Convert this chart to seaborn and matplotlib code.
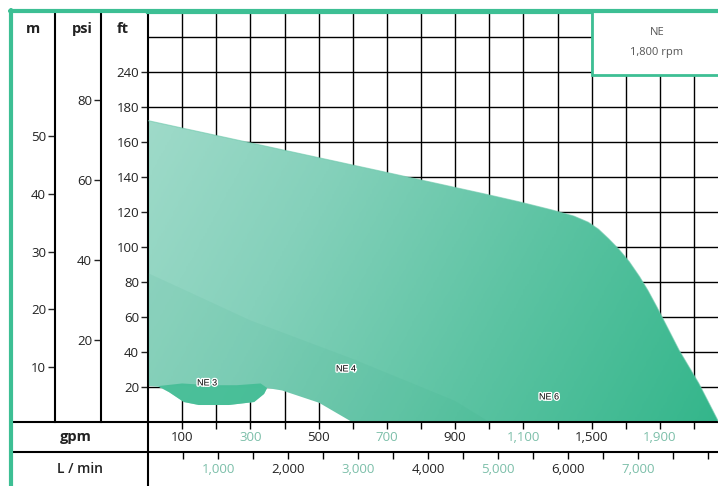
# pump_range.py
# NE pump family performance range chart, 1,800 rpm

import numpy as np
import matplotlib
matplotlib.use("Agg")
import matplotlib.pyplot as plt
import matplotlib.patheffects as pe
from matplotlib.colors import LinearSegmentedColormap
from matplotlib.lines import Line2D
from matplotlib.patches import Polygon, Rectangle
import seaborn as sns

# ----------------------------------------------------
# Data (flow in gpm, head in ft)
# ----------------------------------------------------
ne6_gpm = [0, 686, 990, 1087, 1184, 1248, 1290, 1320, 1350, 1380, 1410, 1440,
           1465, 1490, 1506, 1556, 1614, 1672,
           598, 501, 393, 349, 340, 311, 237, 149, 105, 62, 32, 0]
ne6_ft = [172, 143, 130, 125.7, 121, 117.5, 114, 110, 104.5, 98.5, 91.5, 83,
          75, 66, 60, 41, 22, 0,
          0, 11, 18, 19.4, 16, 11.4, 9.7, 9.7, 11.4, 17, 20, 20.6]

ne4_gpm = [0, 300, 600, 900, 1000, 598, 501, 393, 349, 0]
ne4_ft = [85, 58, 36, 12, 0, 0, 11, 18, 19.4, 20.6]

ne3_gpm = [30, 100, 180, 260, 330, 349, 340, 311, 237, 149, 105, 62]
ne3_ft = [20.5, 22, 21, 21, 22, 19.4, 16, 11.4, 9.7, 9.7, 11.4, 17]

model_names = ["NE 3", "NE 4", "NE 6"]
model_gpm = [173, 580, 1175]
model_ft = [22.3, 30.3, 14.3]

ft_ticks = [20, 40, 60, 80, 100, 120, 140, 160, 180, 200]
ft_labels = ["20", "40", "60", "80", "100", "120", "140", "160", "180", "240"]
psi_ticks = [20, 40, 60, 80]
m_ticks = [10, 20, 30, 40, 50]

gpm_ticks = [100, 300, 500, 700, 900, 1100, 1300, 1500]
gpm_labels = ["100", "300", "500", "700", "900", "1,100", "1,500", "1,900"]
lmin_ticks = [1000, 2000, 3000, 4000, 5000, 6000, 7000]
lmin_labels = ["1,000", "2,000", "3,000", "4,000", "5,000", "6,000", "7,000"]

GREEN = "#3dbf94"
TEAL_TXT = "#7cbfa9"
DARK = "#222222"

sns.set_style("white")
plt.rcParams["font.family"] = ["Open Sans", "DejaVu Sans"]

W, H = 718, 486
fig = plt.figure(figsize=(W / 100, H / 100), dpi=100)


def fx(px):
    return px / W


def fy(py):
    return 1 - py / H


X0, X1, Y_TOP, Y_BOT = 148, 718, 12, 422
GPM_MAX, FT_MAX = 1670, 234

# ----------------------------------------------------
# Main grid (ft axis)
# ----------------------------------------------------
ax = fig.add_axes([fx(X0), fy(Y_BOT), fx(X1) - fx(X0), (Y_BOT - Y_TOP) / H])
ax.set_axisbelow(True)

poly = Polygon(np.column_stack([ne6_gpm, ne6_ft]), closed=True,
               facecolor="none", edgecolor="none", transform=ax.transData)
ax.add_patch(poly)
gx, gy = np.meshgrid(np.linspace(0, GPM_MAX, 300), np.linspace(0, FT_MAX, 150))
shade = 0.72 * gx / GPM_MAX + 0.28 * (1 - gy / FT_MAX)
cmap = LinearSegmentedColormap.from_list(
    "ne", ["#a6ddcd", "#85d1bb", "#5bc3a2", "#34b68b"])
im = ax.imshow(shade, extent=(0, GPM_MAX, 0, FT_MAX), origin="lower",
               cmap=cmap, aspect="auto", zorder=2)
im.set_clip_path(poly)

ax.fill(ne4_gpm, ne4_ft, color="#1f9c74", alpha=0.07, lw=0, zorder=3)
ax.fill(ne3_gpm, ne3_ft, color="#3cbb91", alpha=0.8, lw=0, zorder=3)
sns.lineplot(x=ne6_gpm[:18], y=ne6_ft[:18], sort=False, estimator=None,
             color="#6cc8ab", lw=0.8, alpha=0.6, ax=ax, zorder=4)

for name, gp, ft in zip(model_names, model_gpm, model_ft):
    ax.text(gp, ft, name, ha="center", va="center", fontsize=6.5,
            family=["Liberation Sans", "DejaVu Sans"], color="black", zorder=6,
            path_effects=[pe.withStroke(linewidth=2, foreground="white")])

ax.set_xlim(0, GPM_MAX)
ax.set_ylim(0, FT_MAX)
ax.set_xticks(range(100, 1700, 100))
ax.set_yticks(ft_ticks)
ax.set_yticklabels(ft_labels)
ax.set_yticks([220], minor=True)
ax.grid(True, which="both", color="black", lw=1.0)
ax.tick_params(axis="x", length=0, labelbottom=False)
ax.tick_params(axis="y", which="major", left=True, direction="out", length=5,
               width=1, pad=1.5, labelsize=9.5, colors=DARK)
ax.tick_params(axis="y", which="minor", length=0)
for s in ["left", "bottom"]:
    ax.spines[s].set_linewidth(1.5)
    ax.spines[s].set_color("black")
ax.spines["top"].set_color(GREEN)
ax.spines["top"].set_linewidth(3)
ax.spines["right"].set_visible(False)

# legend box
ax.add_patch(Rectangle((0.779, 0.846), 0.25, 0.16, transform=ax.transAxes,
                       facecolor="white", edgecolor=GREEN, lw=2,
                       zorder=7, clip_on=False))
ax.text(0.893, 0.949, "NE", transform=ax.transAxes, ha="center", va="center",
        fontsize=8, color="#555555", zorder=8)
ax.text(0.893, 0.902, "1,800 rpm", transform=ax.transAxes, ha="center",
        va="center", fontsize=8, color="#555555", zorder=8)


# ----------------------------------------------------
# psi and m columns
# ----------------------------------------------------
def side_axis(left_px, lims, ticks):
    a = fig.add_axes([fx(left_px), fy(Y_BOT), fx(X0) - fx(left_px),
                      (Y_BOT - Y_TOP) / H])
    a.patch.set_alpha(0)
    a.set_ylim(*lims)
    a.set_xticks([])
    a.set_yticks(ticks)
    for s in ["top", "right", "bottom"]:
        a.spines[s].set_visible(False)
    a.spines["left"].set_color("black")
    a.spines["left"].set_linewidth(1.5)
    a.tick_params(axis="y", left=True, direction="out", length=5, width=1,
                  pad=1.5, labelsize=9.5, colors=DARK)
    return a


side_axis(101, (-0.5, 102), psi_ticks)
side_axis(55, (0.48, 71.5), m_ticks)

for label, px in [("m", 33), ("psi", 82), ("ft", 123)]:
    fig.text(fx(px), fy(29), label, ha="center", va="center",
             fontsize=10.5, fontweight="bold", color=DARK)


# ----------------------------------------------------
# gpm and L/min rows
# ----------------------------------------------------
def flow_row(top_px, bot_px, xmax, ticks, labels, tick_marks, colors):
    a = fig.add_axes([fx(X0), fy(bot_px), fx(X1) - fx(X0), (bot_px - top_px) / H])
    a.patch.set_alpha(0)
    a.set_xlim(0, xmax)
    a.set_ylim(0, 1)
    a.set_yticks([])
    a.set_xticks(tick_marks)
    a.tick_params(axis="x", top=True, bottom=False, direction="in", length=5,
                  width=1, labeltop=False, labelbottom=False, colors="black")
    for s in a.spines.values():
        s.set_visible(False)
    for pos, lab, col in zip(ticks, labels, colors):
        a.text(pos, 0.5, lab, ha="center", va="center", fontsize=9.5, color=col)
    return a


flow_row(Y_BOT, 452, GPM_MAX, gpm_ticks, gpm_labels,
         list(range(100, 1700, 100)), [DARK, TEAL_TXT] * 4)
flow_row(452, 486, 8143, lmin_ticks, lmin_labels,
         list(range(500, 8001, 500)), [TEAL_TXT, DARK] * 4)

fig.text(fx(76), fy(437), "gpm", ha="center", va="center", fontsize=10.5,
         fontweight="bold", color=DARK)
fig.text(fx(80), fy(469), "L / min", ha="center", va="center", fontsize=10,
         fontweight="semibold", color=DARK)

# frame lines
fig.add_artist(Line2D([fx(12), fx(X0)], [fy(Y_BOT), fy(Y_BOT)], color="black", lw=1.5))
fig.add_artist(Line2D([fx(12), fx(X1)], [fy(452), fy(452)], color="black", lw=1.5))
fig.add_artist(Line2D([fx(X0), fx(X0)], [fy(Y_BOT), 0], color="black", lw=1.5))
fig.add_artist(Line2D([fx(10), fx(X1)], [fy(11), fy(11)], color=GREEN, lw=3))
fig.add_artist(Line2D([fx(10.5), fx(10.5)], [fy(10), 0], color=GREEN, lw=3))

fig.savefig("out.png", dpi=100)
